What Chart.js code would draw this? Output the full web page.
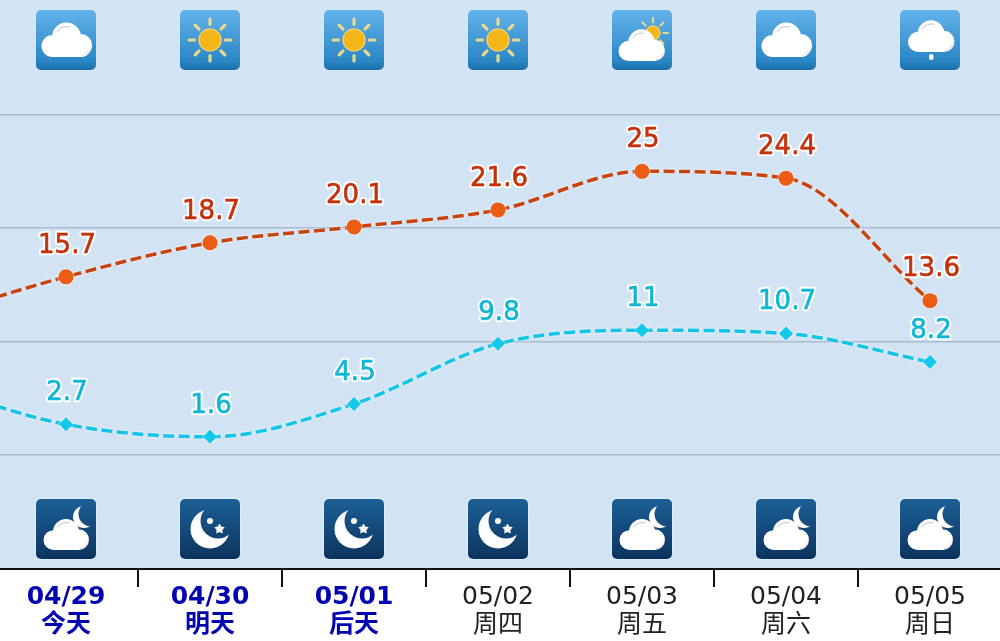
<!DOCTYPE html>
<html>
<head>
<meta charset="utf-8">
<style>
html, body { margin: 0; padding: 0; background: #fff; }
canvas { display: block; }
</style>
<script src="https://cdn.jsdelivr.net/npm/chart.js@4/dist/chart.umd.min.js"></script>
</head>
<body>
<canvas id="weatherChart" width="1000" height="641"></canvas>
<script>
const dates = ['04/29', '04/30', '05/01', '05/02', '05/03', '05/04', '05/05'];
const weekdays = ['今天', '明天', '后天', '周四', '周五', '周六', '周日'];
// first value of each series is the day before, only its line segment shows
const highTemps = [11.9, 15.7, 18.7, 20.1, 21.6, 25, 24.4, 13.6];
const lowTemps = [6.4, 2.7, 1.6, 4.5, 9.8, 11, 10.7, 8.2];
const gridValues = [0, 10, 20, 30];
const dayIcons = ['cloud', 'sun', 'sun', 'sun', 'suncloud', 'cloud', 'raincloud'];
const nightIcons = ['mooncloud', 'moon', 'moon', 'moon', 'mooncloud', 'mooncloud', 'mooncloud'];

const FONT = '"DejaVu Sans", "Noto Sans CJK SC", sans-serif';

function circles(ctx, list, color) {
    ctx.fillStyle = color;
    ctx.beginPath();
    list.forEach(c => {
        ctx.moveTo(c[0] + c[2], c[1]);
        ctx.arc(c[0], c[1], c[2], 0, Math.PI * 2);
    });
    ctx.fill();
}

function drawCloud(ctx, x, y, s) {
    // x,y = middle of the cloud base
    ctx.fillStyle = '#fff';
    ctx.beginPath();
    ctx.moveTo(x - 14 * s + 11 * s, y - 11 * s);
    ctx.arc(x - 14 * s, y - 11 * s, 11 * s, 0, Math.PI * 2);
    ctx.moveTo(x + 14 * s + 11.5 * s, y - 11.5 * s);
    ctx.arc(x + 14 * s, y - 11.5 * s, 11.5 * s, 0, Math.PI * 2);
    ctx.moveTo(x + 14 * s, y - 20 * s);
    ctx.arc(x, y - 20 * s, 14.5 * s, 0, Math.PI * 2);
    ctx.rect(x - 14 * s, y - 14 * s, 28 * s, 14 * s);
    ctx.fill();
    ctx.strokeStyle = '#b9c6d2';
    ctx.lineWidth = 1;
    ctx.beginPath();
    ctx.arc(x, y - 20 * s, 10.5 * s, Math.PI * 1.15, Math.PI * 1.6);
    ctx.stroke();
    ctx.strokeStyle = '#f0d8e0';
    ctx.lineWidth = 1.2;
    ctx.beginPath();
    ctx.arc(x + 14 * s, y - 11.5 * s, 10 * s, Math.PI * 0.1, Math.PI * 0.45);
    ctx.stroke();
}

function drawSun(ctx, x, y, r, rayIn, rayOut, rayW) {
    ctx.strokeStyle = '#e9d98c';
    ctx.lineWidth = rayW;
    ctx.lineCap = 'round';
    for (let i = 0; i < 8; i++) {
        const a = i * Math.PI / 4;
        ctx.beginPath();
        ctx.moveTo(x + Math.cos(a) * rayIn, y + Math.sin(a) * rayIn);
        ctx.lineTo(x + Math.cos(a) * rayOut, y + Math.sin(a) * rayOut);
        ctx.stroke();
    }
    ctx.lineCap = 'butt';
    ctx.fillStyle = '#f6b517';
    ctx.strokeStyle = '#e9cf6e';
    ctx.lineWidth = 1.5;
    ctx.beginPath();
    ctx.arc(x, y, r, 0, Math.PI * 2);
    ctx.fill();
    ctx.stroke();
}

function drawStar(ctx, x, y, r) {
    ctx.fillStyle = '#fff';
    ctx.beginPath();
    for (let i = 0; i < 10; i++) {
        const a = -Math.PI / 2 + i * Math.PI / 5;
        const d = i % 2 ? r * 0.55 : r;
        ctx.lineTo(x + Math.cos(a) * d, y + Math.sin(a) * d);
    }
    ctx.closePath();
    ctx.fill();
}

function tilePath(ctx, x, y) {
    ctx.beginPath();
    ctx.roundRect(x - 30, y - 30, 60, 60, 5);
}

function drawIcon(ctx, type, x, y) {
    const night = type === 'moon' || type === 'mooncloud';
    const grad = ctx.createLinearGradient(0, y - 30, 0, y + 30);
    if (night) {
        grad.addColorStop(0, '#1c5f96');
        grad.addColorStop(1, '#0d335f');
    } else {
        grad.addColorStop(0, '#62b3ea');
        grad.addColorStop(0.85, '#2a86c6');
        grad.addColorStop(1, '#1b6fa8');
    }
    ctx.save();
    ctx.shadowColor = night ? '#eef7ff' : '#d4f4ff';
    ctx.shadowBlur = 3;
    tilePath(ctx, x, y);
    ctx.fillStyle = grad;
    ctx.fill();
    ctx.restore();

    ctx.save();
    tilePath(ctx, x, y);
    ctx.clip();
    if (type === 'sun') {
        drawSun(ctx, x, y, 11, 15.5, 21, 3.2);
    } else if (type === 'cloud') {
        drawCloud(ctx, x + 0.5, y + 17, 1);
    } else if (type === 'suncloud') {
        drawSun(ctx, x + 11, y - 7, 7, 10.5, 15, 2);
        drawCloud(ctx, x - 0.5, y + 21, 0.92);
    } else if (type === 'raincloud') {
        drawCloud(ctx, x + 1, y + 12, 0.92);
        ctx.fillStyle = '#fff';
        ctx.beginPath();
        ctx.roundRect(x - 1, y + 14, 4.5, 6, 2);
        ctx.fill();
    } else if (type === 'moon') {
        circles(ctx, [[x, y, 19.5]], '#fff');
        circles(ctx, [[x + 8, y - 8, 17.5]], grad);
        circles(ctx, [[x, y - 8, 3]], '#fff');
        drawStar(ctx, x + 9.5, y, 5.5);
    } else if (type === 'mooncloud') {
        circles(ctx, [[x + 18, y - 12, 11]], '#fff');
        circles(ctx, [[x + 25, y - 15, 12.5]], grad);
        drawCloud(ctx, x, y + 21, 0.9);
    }
    ctx.restore();
}

function temperatureDataset(values, lineColor, pointColor, pointStyle, radius, labelColor) {
    return {
        data: values.map((v, i) => ({ x: i - 1, y: v })),
        borderColor: lineColor,
        borderWidth: 3.5,
        borderDash: [11, 4.5],
        cubicInterpolationMode: 'monotone',
        pointStyle: pointStyle,
        pointRadius: radius,
        pointHoverRadius: radius,
        pointBackgroundColor: pointColor,
        pointBorderColor: pointColor,
        pointBorderWidth: 0,
        labelColor: labelColor
    };
}

const weatherPlugin = {
    id: 'weatherPlugin',
    beforeDraw(chart) {
        const { ctx, chartArea } = chart;
        ctx.fillStyle = '#d2e3f4';
        ctx.fillRect(chartArea.left, chartArea.top, chartArea.width, chartArea.height);
    },
    beforeDatasetsDraw(chart) {
        const { ctx, scales } = chart;
        dayIcons.forEach((t, i) => drawIcon(ctx, t, scales.x.getPixelForValue(i), 40));
        nightIcons.forEach((t, i) => drawIcon(ctx, t, scales.x.getPixelForValue(i), 529));
    },
    beforeDatasetDraw(chart) {
        chart.ctx.save();
        chart.ctx.shadowColor = 'rgba(255,255,255,0.9)';
        chart.ctx.shadowBlur = 3;
    },
    afterDatasetDraw(chart) {
        chart.ctx.restore();
    },
    afterDatasetsDraw(chart) {
        const { ctx, chartArea } = chart;
        ctx.save();
        ctx.font = '26px ' + FONT;
        ctx.textAlign = 'center';
        ctx.textBaseline = 'middle';
        ctx.lineJoin = 'round';
        chart.data.datasets.forEach((ds, d) => {
            chart.getDatasetMeta(d).data.forEach((pt, i) => {
                if (pt.x < chartArea.left) return;
                const txt = String(ds.data[i].y);
                ctx.strokeStyle = '#fff';
                ctx.lineWidth = 4.5;
                ctx.strokeText(txt, pt.x + 1, pt.y - 31);
                ctx.fillStyle = ds.labelColor;
                ctx.strokeStyle = ds.labelColor;
                ctx.lineWidth = 0.6;
                ctx.strokeText(txt, pt.x + 1, pt.y - 31);
                ctx.fillText(txt, pt.x + 1, pt.y - 31);
            });
        });
        ctx.restore();
    },
    afterDraw(chart) {
        const { ctx, scales, chartArea } = chart;
        ctx.save();
        ctx.strokeStyle = '#111';
        ctx.lineWidth = 2;
        for (let i = 0; i < dates.length - 1; i++) {
            const x = Math.round(scales.x.getPixelForValue(i + 0.5));
            ctx.beginPath();
            ctx.moveTo(x, chartArea.bottom);
            ctx.lineTo(x, chartArea.bottom + 18);
            ctx.stroke();
        }
        ctx.restore();
    }
};

new Chart(document.getElementById('weatherChart').getContext('2d'), {
    type: 'line',
    data: {
        datasets: [
            temperatureDataset(highTemps, '#c8440f', '#ec5c14', 'circle', 7.5, '#c4300a'),
            temperatureDataset(lowTemps, '#14c4e6', '#14c8ea', 'rectRot', 7, '#0fb6d6')
        ]
    },
    options: {
        responsive: false,
        animation: false,
        layout: { padding: 0, autoPadding: false },
        plugins: { legend: { display: false }, tooltip: { enabled: false } },
        scales: {
            x: {
                type: 'linear',
                min: -66 / 144,
                max: 934 / 144,
                afterBuildTicks: scale => {
                    scale.ticks = dates.map((d, i) => ({ value: i }));
                },
                afterFit: scale => {
                    scale.height = 72;
                    scale.paddingLeft = 0;
                    scale.paddingRight = 0;
                },
                grid: { display: false },
                border: { display: true, color: '#111', width: 2 },
                ticks: {
                    autoSkip: false,
                    maxRotation: 0,
                    padding: 6,
                    callback: value => [dates[value], weekdays[value]],
                    color: ctx => ctx.index < 3 ? '#0000b0' : '#222',
                    font: ctx => ({
                        family: FONT,
                        size: 25,
                        lineHeight: 1.12,
                        weight: ctx.index < 3 ? 'bold' : 'normal'
                    })
                }
            },
            y: {
                min: -10.05,
                max: 40.1,
                afterBuildTicks: scale => {
                    scale.ticks = gridValues.map(v => ({ value: v }));
                },
                afterFit: scale => {
                    scale.width = 0;
                    scale.paddingTop = 0;
                    scale.paddingBottom = 0;
                },
                grid: { color: '#a9bccf', lineWidth: 1.5, drawTicks: false },
                border: { display: false },
                ticks: { display: false }
            }
        }
    },
    plugins: [weatherPlugin]
});
</script>
</body>
</html>
